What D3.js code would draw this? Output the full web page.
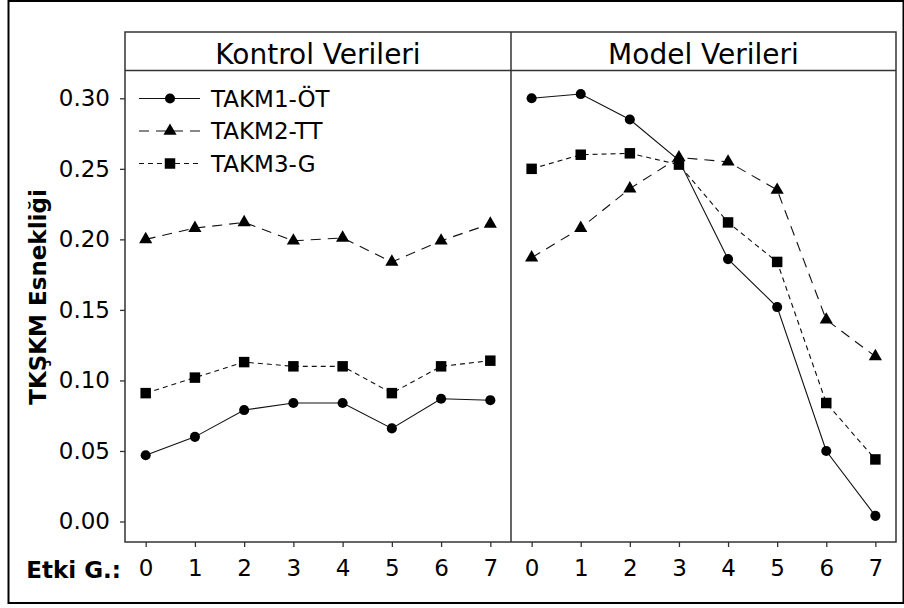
<!DOCTYPE html>
<html>
<head>
<meta charset="utf-8">
<script src="https://cdn.jsdelivr.net/npm/d3@7"></script>
<style>
  body { margin: 0; background: #fff; }
  svg { display: block; font-family: "DejaVu Sans", sans-serif; }
</style>
</head>
<body>
<div id="chart"></div>
<script>
var panels = ["Kontrol Verileri", "Model Verileri"];
var steps = [0, 1, 2, 3, 4, 5, 6, 7];
var seriesNames = ["TAKM1-ÖT", "TAKM2-TT", "TAKM3-G"];
var yTicks = [0, 0.05, 0.10, 0.15, 0.20, 0.25, 0.30];

// kontrol verileri
var kontrolOT = [0.047, 0.060, 0.079, 0.084, 0.084, 0.066, 0.087, 0.086];
var kontrolTT = [0.200, 0.208, 0.212, 0.199, 0.201, 0.184, 0.199, 0.211];
var kontrolG  = [0.091, 0.102, 0.113, 0.110, 0.110, 0.091, 0.110, 0.114];
// model verileri
var modelOT = [0.300, 0.303, 0.285, 0.256, 0.186, 0.152, 0.050, 0.004];
var modelTT = [0.187, 0.208, 0.236, 0.258, 0.255, 0.235, 0.143, 0.117];
var modelG  = [0.250, 0.260, 0.261, 0.253, 0.212, 0.184, 0.084, 0.044];

var W = 904, H = 608;
var frame = {left: 125, right: 896, top: 32, strip: 70.5, bottom: 542};
var mid = 511;
var font = "DejaVu Sans";

var svg = d3.select("#chart").append("svg")
    .attr("width", W)
    .attr("height", H);

// outer border
svg.append("rect")
    .attr("x", 8.5).attr("y", 1)
    .attr("width", 895).attr("height", 602)
    .attr("fill", "none")
    .attr("stroke", "#000")
    .attr("stroke-width", 2);

var yScale = d3.scaleLinear().domain([0, 0.30]).range([521.5, 98.3]);

var xScales = [
  d3.scaleLinear().domain([-0.42, 7.42]).range([frame.left, mid]),
  d3.scaleLinear().domain([-0.42, 7.42]).range([mid, frame.right])
];

var styles = [
  {dash: null, symbol: d3.symbolCircle, size: 80},
  {dash: "10,7", symbol: d3.symbolTriangle, size: 75},
  {dash: "5,4", symbol: d3.symbolSquare, size: 110}
];

var panelData = [
  [kontrolOT, kontrolTT, kontrolG],
  [modelOT, modelTT, modelG]
];

// y-axis
var yAxis = d3.axisLeft(yScale)
    .tickValues(yTicks)
    .tickFormat(d3.format(".2f"))
    .tickSize(5)
    .tickPadding(10);
var gy = svg.append("g")
    .attr("transform", "translate(" + frame.left + ",0)")
    .call(yAxis)
    .attr("font-family", font)
    .attr("font-size", 23);
gy.select(".domain").remove();
gy.selectAll(".tick line").attr("stroke", "#333").attr("stroke-width", 1.3);
gy.selectAll(".tick text").attr("fill", "#000");

svg.append("text")
    .attr("transform", "translate(46,297) rotate(-90)")
    .attr("text-anchor", "middle")
    .attr("font-size", 23)
    .attr("font-weight", "bold")
    .text("TKŞKM Esnekliği");

// x-axes
xScales.forEach(function(xs) {
  var xAxis = d3.axisBottom(xs)
      .tickValues(steps)
      .tickFormat(d3.format("d"))
      .tickSize(5)
      .tickPadding(13);
  var gx = svg.append("g")
      .attr("transform", "translate(0," + frame.bottom + ")")
      .call(xAxis)
      .attr("font-family", font)
      .attr("font-size", 23);
  gx.select(".domain").remove();
  gx.selectAll(".tick line").attr("stroke", "#333").attr("stroke-width", 1.3);
  gx.selectAll(".tick text").attr("fill", "#000");
});

svg.append("text")
    .attr("x", 121).attr("y", 578)
    .attr("text-anchor", "end")
    .attr("font-size", 23)
    .attr("font-weight", "bold")
    .text("Etki G.:");

// lines and markers
var line = function(xs) {
  return d3.line()
      .x(function(d, i) { return xs(steps[i]); })
      .y(function(d) { return yScale(d); });
};

panelData.forEach(function(series, p) {
  var xs = xScales[p];
  series.forEach(function(vals, s) {
    svg.append("path")
        .datum(vals)
        .attr("d", line(xs))
        .attr("fill", "none")
        .attr("stroke", "#111")
        .attr("stroke-width", 1.1)
        .attr("stroke-dasharray", styles[s].dash);
    svg.selectAll(".pt" + p + s)
        .data(vals)
        .enter().append("path")
        .attr("class", "pt" + p + s)
        .attr("d", d3.symbol().type(styles[s].symbol).size(styles[s].size))
        .attr("transform", function(d, i) {
          return "translate(" + xs(steps[i]) + "," + yScale(d) + ")";
        })
        .attr("fill", "#000");
  });
});

// frame and strips
var fg = svg.append("g").attr("fill", "none").attr("stroke", "#333").attr("stroke-width", 1.5);
fg.append("rect")
    .attr("x", frame.left).attr("y", frame.top)
    .attr("width", frame.right - frame.left)
    .attr("height", frame.bottom - frame.top);
fg.append("line")
    .attr("x1", frame.left).attr("x2", frame.right)
    .attr("y1", frame.strip).attr("y2", frame.strip);
fg.append("line")
    .attr("x1", mid).attr("x2", mid)
    .attr("y1", frame.top).attr("y2", frame.bottom);

panels.forEach(function(name, p) {
  var r = xScales[p].range();
  svg.append("text")
      .attr("x", (r[0] + r[1]) / 2)
      .attr("y", 64)
      .attr("text-anchor", "middle")
      .attr("font-size", 28)
      .text(name);
});

// legend
var legend = svg.selectAll(".legend")
    .data(seriesNames)
    .enter().append("g")
    .attr("class", "legend")
    .attr("transform", function(d, i) { return "translate(0," + (98.5 + i * 32.5) + ")"; });

legend.append("line")
    .attr("x1", 139).attr("x2", 200)
    .attr("stroke", "#111")
    .attr("stroke-width", 1.1)
    .attr("stroke-dasharray", function(d, i) { return styles[i].dash; });

legend.append("path")
    .attr("transform", "translate(170,0)")
    .attr("d", function(d, i) { return d3.symbol().type(styles[i].symbol).size(styles[i].size)(); })
    .attr("fill", "#000");

legend.append("text")
    .attr("x", 211)
    .attr("dy", "0.36em")
    .attr("font-size", 23)
    .text(function(d) { return d; });
</script>
</body>
</html>
